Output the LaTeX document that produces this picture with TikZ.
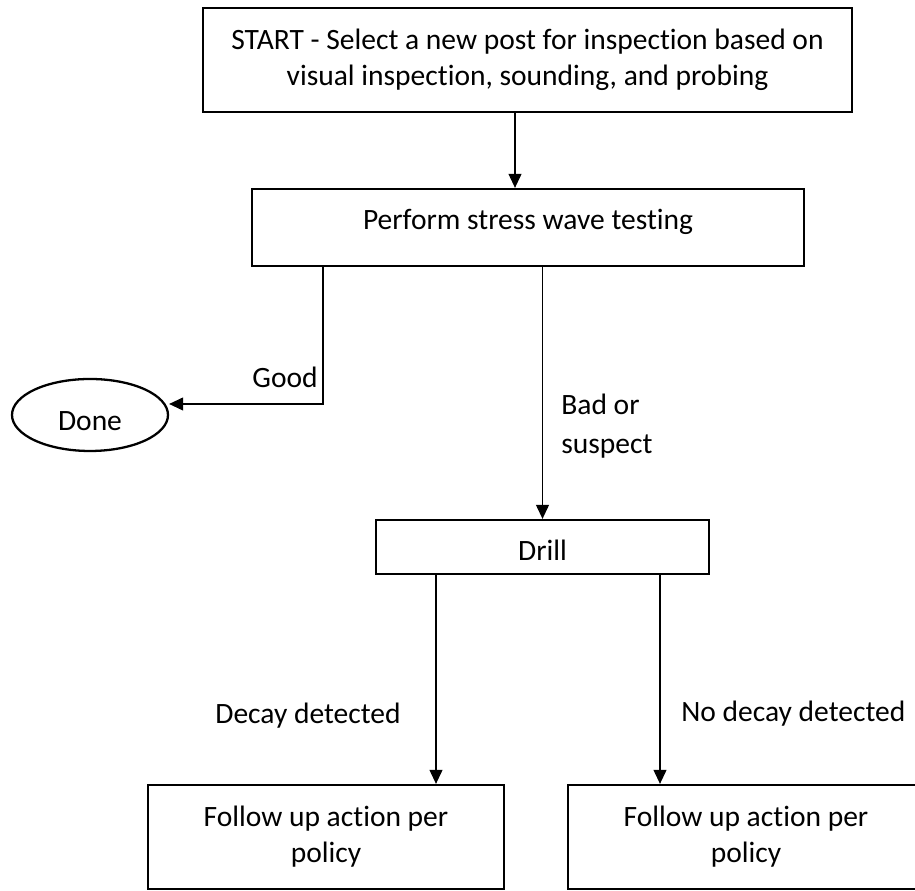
\documentclass[tikz,border=0pt]{standalone}
\usepackage{fontspec}
\setmainfont{Carlito}[Ligatures=NoCommon]
\usetikzlibrary{arrows.meta,shapes.geometric}

\begin{document}
\begin{tikzpicture}[
    scale=1.0,
    box/.style={draw,line width=1.3pt,rectangle,inner sep=0pt,font=\fontsize{16.8}{20.5}\selectfont},
    lbl/.style={inner sep=0pt,font=\fontsize{16.8}{22}\selectfont},
    flow/.style={line width=0.6pt,-{Triangle[length=0.28cm,width=0.26cm]}}
]
\clip (0,0) rectangle (18.3,17.82);

% Boxes
\node[box,minimum width=12.98cm,minimum height=2.08cm,align=center] (start) at (10.55,16.62)
    {START - Select a new post for inspection based on\\visual inspection, sounding, and probing};
\node[box,minimum width=11.04cm,minimum height=1.54cm,text depth=0.34cm] (stress) at (10.56,13.27)
    {Perform stress wave testing};
\node[draw,line width=1.3pt,ellipse,minimum width=3.12cm,minimum height=1.44cm,inner sep=0pt,
    text height=0.62cm,font=\fontsize{16.8}{20.5}\selectfont] (done) at (1.8,9.52) {Done};
\node[box,minimum width=6.66cm,minimum height=1.08cm,text height=0.56cm] (drill) at (10.85,6.88) {Drill};
\node[box,minimum width=7.12cm,minimum height=2.08cm,align=center] (decay) at (6.52,1.08)
    {Follow up action per\\policy};
\node[box,minimum width=7.12cm,minimum height=2.08cm,align=center] (nodecay) at (14.92,1.08)
    {Follow up action per\\policy};

% Connectors
\draw[flow] ([xshift=-0.25cm]start.south) -- ([xshift=-0.25cm]start.south |- stress.north);
\draw[flow] ([xshift=-4.1cm]stress.south) |- ([yshift=0.22cm]done.east);
\draw[flow] (stress.south -| drill.north) -- (drill.north);
\draw[flow] ([xshift=-2.13cm]drill.south) -- ([xshift=-2.13cm]drill.south |- decay.north);
\draw[flow] ([xshift=2.35cm]drill.south) -- ([xshift=2.35cm]drill.south |- nodecay.north);

% Labels
\node[lbl,anchor=base east] (goodlbl) at (6.36,10.06) {Good};
\node[lbl,anchor=west,align=left] (badlbl) at (11.22,9.3) {Bad or\\suspect};
\node[lbl,anchor=base west] (decaylbl) at (4.3,3.34) {Decay detected};
\node[lbl,anchor=base west] (nodecaylbl) at (13.62,3.38) {No decay detected};

\end{tikzpicture}
\end{document}
